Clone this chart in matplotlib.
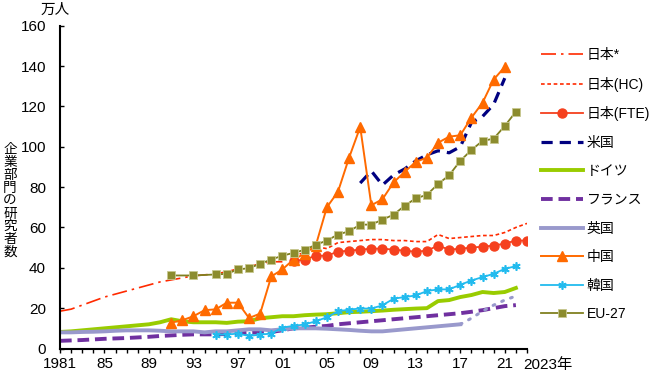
import matplotlib.pyplot as plt
import numpy as np

plt.rcParams['font.family'] = ['Liberation Sans', 'Noto Sans CJK JP']

# 日本* (1981-2001)
jp_old_years = list(range(1981, 2002))
jp_old = [18.5, 19.5, 21.5, 23.5, 25.5, 27, 28.5, 30, 31.5, 33, 34, 35, 36, 36.5,
          37, 38, 39.5, 40.5, 42, 43, 43]

# 日本(HC), 日本(FTE) (2002-2023)
jp_years = list(range(2002, 2024))
jp_hc = [46, 47.5, 50.5, 49.5, 52.5, 53, 53.5, 54, 54, 53.5, 53.5, 53, 53, 56.5,
         54.5, 55, 55.5, 56, 56, 57.5, 60, 62]
jp_fte = [43.5, 44, 46, 46, 48, 48.5, 49, 49.5, 49.5, 49, 48.5, 48, 48.5, 51,
          49, 49.5, 50, 50.5, 51, 52, 53.5, 53.5]

us_years = list(range(2008, 2022))
us = [82, 88, 81, 86, 89, 93, 96, 98, 97, 100, 112, 115, 121, 134]

de_years = list(range(1981, 2023))
de = [8.2, 8.5, 9, 9.5, 10, 10.5, 11, 11.5, 12, 13, 14.5, 13.5, 13, 13, 13, 12.7,
      13.3, 13.5, 15, 15.5, 16, 16, 16.5, 16.8, 17, 17.5, 18, 18.2, 18.5, 18.8,
      19.2, 19.5, 19.8, 20, 23.5, 24, 25.5, 26.5, 28, 27.5, 28, 30]

fr_years = list(range(1981, 2023))
fr = [3.8, 4, 4.2, 4.5, 4.8, 5, 5.2, 5.5, 5.8, 6.2, 6.5, 6.8, 7, 7, 7, 7.2, 7.5,
      7.8, 8, 8.2, 9, 10, 10.3, 10.8, 11.2, 12, 12.5, 13, 13.5, 14, 14.5, 15,
      15.5, 16, 16.5, 17, 17.5, 18.2, 19, 20, 21, 21.5]

uk_years = list(range(1981, 2018))
uk = [8, 8, 8.2, 8.3, 8.5, 8.8, 9, 9, 9, 8.8, 8.5, 8.5, 8.5, 8, 8.5, 8.5, 9, 9.5,
      9.5, 9, 9.5, 10, 10, 10, 9.8, 9.5, 9.2, 8.8, 8.5, 8.5, 9, 9.5, 10, 10.5,
      11, 11.5, 12]
uk_new_years = list(range(2017, 2023))
uk_new = [12, 15, 18.5, 21.5, 24, 26]

cn_years = list(range(1991, 2022))
cn = [12.8, 14, 16, 19, 19.4, 22.7, 22.7, 15.1, 17.3, 35.7, 39.2, 44.1, 47, 51,
      70, 77.7, 94.6, 109.8, 71, 74, 82.3, 87.6, 92.5, 94.6, 102, 105, 105.7,
      114.4, 121.8, 133.3, 139.6]

kr_years = list(range(1995, 2023))
kr = [6.9, 6.9, 7.4, 6.2, 6.9, 7.4, 10.4, 11.2, 11.9, 13.5, 15.5, 18.4, 19.3,
      19.8, 19.8, 21.4, 24.7, 25.5, 26.3, 28.5, 29.3, 29.3, 31.6, 33.7, 35.4,
      37, 39.5, 40.8]

eu_years = [1991, 1993] + list(range(1995, 2023))
eu = [36.2, 36.2, 36.7, 37, 39.2, 39.8, 42, 44.1, 46, 47.4, 48.9, 51.4, 53.5,
      56.5, 58.1, 61.4, 61.4, 63.9, 66.3, 70.8, 74.4, 76.2, 81.5, 85.9, 93,
      98.4, 102.9, 104, 110.3, 117.4]

tick_years = [1981, 1985, 1989, 1993, 1997, 2001, 2005, 2009, 2013, 2017, 2021]
tick_labels = ['1981', '85', '89', '93', '97', '01', '05', '09', '13', '17', '21']

fig = plt.figure(figsize=(6.52, 3.72), dpi=100)
ax = fig.add_axes([60 / 652, 23.5 / 372, 467 / 652, 322.8 / 372])

ax.plot(jp_old_years, jp_old, color='#FF2A00', lw=1.2, dashes=(9, 3, 1.5, 3),
        label='日本*')
ax.plot(jp_years, jp_hc, color='#FF2A00', lw=1.2, dashes=(2.2, 1.6),
        label='日本(HC)')
ax.plot(jp_years, jp_fte, color='#F5401E', lw=1.3, marker='o', ms=6.5,
        mec='#F5401E', label='日本(FTE)')
ax.plot(us_years, us, color='#000080', lw=2.3, dashes=(3.5, 2.2), label='米国')
ax.plot(de_years, de, color='#99CC00', lw=2.8, label='ドイツ')
ax.plot(fr_years, fr, color='#7030A0', lw=2.8, dashes=(3, 1.5), label='フランス')
ax.plot(uk_years, uk, color='#9999CC', lw=2.8, label='英国')
ax.plot(uk_new_years, uk_new, color='#9999CC', lw=2.2, dashes=(0.6, 2.5),
        dash_capstyle='round')
ax.plot(cn_years, cn, color='#FF6A00', lw=1.4, marker='^', ms=6.5,
        mec='#FF6A00', label='中国')
ax.plot(kr_years, kr, color='#22BBEE', lw=1.3, marker=(6, 2, 0), ms=6,
        mew=1.2, label='韓国')
ax.plot(eu_years, eu, color='#808020', lw=1.3, marker='s', ms=5.5,
        mfc='#8C8C2E', mec='#C8C890', mew=0.6, label='EU-27')

ax.set_xlim(1981, 2023)
ax.set_ylim(0, 160)
ax.set_yticks(np.arange(0, 161, 20))
ax.set_xticks(range(1981, 2024), minor=True)
ax.set_xticks(tick_years)
ax.set_xticklabels(tick_labels)
ax.tick_params(axis='x', which='both', direction='out', length=3, width=1,
               labelsize=11, pad=3)
ax.tick_params(axis='y', direction='in', length=3, width=1, labelsize=11, pad=10)
for s in ['top', 'right']:
    ax.spines[s].set_visible(False)
for s in ['left', 'bottom']:
    ax.spines[s].set_linewidth(1.5)

# last tick label with unit
ax.annotate('2023年', xy=(2023, 0), xycoords=('data', 'axes fraction'),
            xytext=(-3, -7), textcoords='offset points', fontsize=11,
            ha='left', va='top', annotation_clip=False)

fig.text(55 / 652, 1 - 10 / 372, '万人', fontsize=10.5, ha='center',
         va='center')
# vertical axis title, one character per row
ylabel = '企業部門の研究者数'
for i, ch in enumerate(ylabel):
    fig.text(10 / 652, 1 - (149.5 + i * 12.8) / 372, ch, fontsize=9.8,
             ha='center', va='center')

fig.legend(loc='upper left', bbox_to_anchor=(541 / 652, 1 - 48 / 372),
           frameon=False, fontsize=10, handlelength=3.0, handletextpad=0.3,
           labelspacing=1.05, borderpad=0, borderaxespad=0)

fig.savefig('out.png', dpi=100)
